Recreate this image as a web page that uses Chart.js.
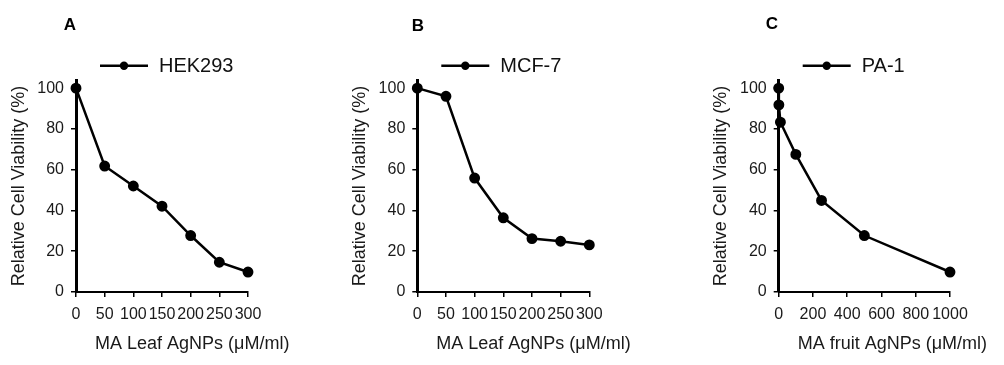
<!DOCTYPE html>
<html>
<head>
<meta charset="utf-8">
<script src="https://cdn.jsdelivr.net/npm/chart.js@4.4.0/dist/chart.umd.min.js"></script>
<style>
  body { margin: 0; background: #fff; }
  .panel { position: absolute; top: 0; height: 365px; }
</style>
</head>
<body>
<div class="panel" style="left:0;width:335px"><canvas id="chartA" width="335" height="365"></canvas></div>
<div class="panel" style="left:335px;width:335px"><canvas id="chartB" width="335" height="365"></canvas></div>
<div class="panel" style="left:670px;width:334px"><canvas id="chartC" width="334" height="365"></canvas></div>
<script>
// A - HEK293, leaf AgNPs
var doseA = [0, 50, 100, 150, 200, 250, 300];
var viabA = [100, 61.8, 52, 42.1, 27.7, 14.6, 9.8];
// B - MCF-7, leaf AgNPs
var doseB = [0, 50, 100, 150, 200, 250, 300];
var viabB = [100, 96, 55.9, 36.4, 26.2, 24.9, 23.1];
// C - PA-1, fruit AgNPs
var doseC = [0, 1, 10, 100, 250, 500, 1000];
var viabC = [100, 91.8, 83.3, 67.5, 44.9, 27.7, 9.8];

var yTicks = [0, 20, 40, 60, 80, 100];
var xTicksLeaf = [0, 50, 100, 150, 200, 250, 300];
var xTicksFruit = [0, 200, 400, 600, 800, 1000];

var letters = ['A', 'B', 'C'];
var cellLines = ['HEK293', 'MCF-7', 'PA-1'];
var xTitles = ['MA Leaf AgNPs (\u03bcM/ml)', 'MA Leaf AgNPs (\u03bcM/ml)', 'MA fruit AgNPs (\u03bcM/ml)'];
var yTitle = 'Relative Cell Viability (%)';

Chart.defaults.font.family = '"Liberation Sans", Arial, sans-serif';
Chart.defaults.color = '#1a1a1a';

// where each plot sits inside its canvas
var layouts = [
  { id: 'chartA', left: 76, right: 248, width: 335, letterDx: -6, letterY: 25 },
  { id: 'chartB', left: 82.3, right: 254.3, width: 335, letterDx: 0.7, letterY: 26 },
  { id: 'chartC', left: 108.7, right: 280, width: 334, letterDx: -6.7, letterY: 24 }
];
var yBoxW = 68;

// panel letter, legend entry and x title
var panelDeco = {
  id: 'panelDeco',
  afterDraw: function (chart) {
    var ctx = chart.ctx, a = chart.chartArea, o = chart.options.plugins.panelDeco;
    ctx.save();
    ctx.fillStyle = '#000';
    ctx.strokeStyle = '#000';
    ctx.font = 'bold 17px "Liberation Sans", Arial, sans-serif';
    ctx.textAlign = 'center';
    ctx.textBaseline = 'middle';
    ctx.fillText(o.letter, a.left + o.letterDx, o.letterY);

    var ly = 65.7, lx = a.left + 24;
    ctx.lineWidth = 2.5;
    ctx.beginPath();
    ctx.moveTo(lx, ly);
    ctx.lineTo(lx + 48, ly);
    ctx.stroke();
    ctx.beginPath();
    ctx.arc(lx + 24, ly, 4.2, 0, Math.PI * 2);
    ctx.fill();
    ctx.fillStyle = '#111';
    ctx.font = '20px "Liberation Sans", Arial, sans-serif';
    ctx.textAlign = 'left';
    ctx.fillText(chart.data.datasets[0].label, lx + 59, ly + 0.5);

    ctx.fillStyle = '#1a1a1a';
    ctx.font = '18px "Liberation Sans", Arial, sans-serif';
    ctx.fillText(o.xTitle, a.left + 19, 344);
    ctx.restore();
  }
};

function makeChart(i, dose, viab, xTicks, xMax) {
  var L = layouts[i];
  var pts = dose.map(function (d, k) { return { x: d, y: viab[k] }; });
  return new Chart(document.getElementById(L.id), {
    type: 'scatter',
    data: {
      datasets: [{
        label: cellLines[i],
        data: pts,
        showLine: true,
        borderColor: '#000',
        backgroundColor: '#000',
        borderWidth: 2.5,
        pointRadius: 4.2,
        pointHoverRadius: 4.2,
        tension: 0,
        clip: false
      }]
    },
    options: {
      responsive: false,
      animation: false,
      layout: { padding: { left: L.left - yBoxW, right: L.width - L.right, top: 80, bottom: 365 - 292 - 40 } },
      plugins: {
        legend: { display: false },
        tooltip: { enabled: false },
        panelDeco: { letter: letters[i], letterDx: L.letterDx, letterY: L.letterY, xTitle: xTitles[i] }
      },
      scales: {
        x: {
          type: 'linear',
          min: 0,
          max: xMax,
          afterBuildTicks: function (s) { s.ticks = xTicks.map(function (v) { return { value: v }; }); },
          afterFit: function (s) { s.height = 40; },
          grid: { drawOnChartArea: false, drawTicks: true, tickLength: 5, color: '#000', lineWidth: 1.5 },
          border: { display: true, color: '#000', width: 2 },
          ticks: {
            autoSkip: false, maxRotation: 0, minRotation: 0, padding: 8, font: { size: 16 },
            callback: function (v) { return String(v); }
          }
        },
        y: {
          min: 0,
          max: 104,
          afterBuildTicks: function (s) { s.ticks = yTicks.map(function (v) { return { value: v }; }); },
          afterFit: function (s) { s.width = yBoxW; },
          grid: { drawOnChartArea: false, drawTicks: true, tickLength: 5, color: '#000', lineWidth: 1.5 },
          border: { display: true, color: '#000', width: 3 },
          ticks: { padding: 7, font: { size: 16 } },
          title: { display: true, text: yTitle, font: { size: 18 }, padding: { top: 0, bottom: 0 } }
        }
      }
    },
    plugins: [panelDeco]
  });
}

makeChart(0, doseA, viabA, xTicksLeaf, 300);
makeChart(1, doseB, viabB, xTicksLeaf, 300);
makeChart(2, doseC, viabC, xTicksFruit, 1000);
</script>
</body>
</html>
